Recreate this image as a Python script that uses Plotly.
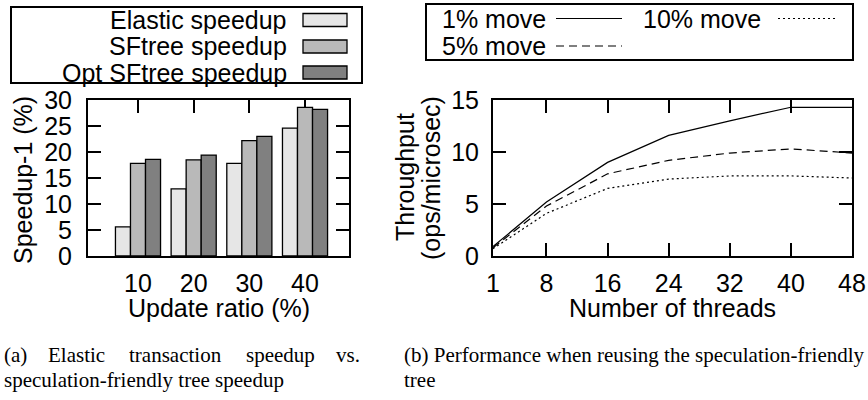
import plotly.graph_objects as go

W, H = 868, 400

# ---------------- data ----------------
update_ratio = [10, 20, 30, 40]
elastic = [5.6, 12.9, 17.8, 24.6]
sftree = [17.8, 18.5, 22.2, 28.6]
opt_sftree = [18.6, 19.4, 23.0, 28.2]
bar_names = ["Elastic speedup", "SFtree speedup", "Opt SFtree speedup"]

threads = [1, 8, 16, 24, 32, 40, 48]
move1 = [0.9, 5.2, 9.0, 11.6, 13.0, 14.3, 14.3]
move5 = [0.8, 4.8, 7.9, 9.2, 9.9, 10.3, 9.9]
move10 = [0.7, 4.1, 6.5, 7.4, 7.7, 7.7, 7.5]
line_names = ["1% move", "5% move", "10% move"]

caption_a1 = ["(a)", "Elastic", "transaction", "speedup", "vs."]
caption_a2 = "speculation-friendly tree speedup"
caption_b1 = "(b) Performance when reusing the speculation-friendly"
caption_b2 = "tree"

# ---------------- style ----------------
SANS = "Liberation Sans, Arial, Helvetica, sans-serif"
SERIF = "Liberation Serif, Times New Roman, serif"
FS = 25
bar_colors = ["#e6e6e6", "#b9b9b9", "#808080"]
line_dashes = ["solid", "8px,5px", "2px,3px"]


def px(x):
    return x / W


def py(y):
    return 1 - y / H


fig = go.Figure()

for name, vals, col in zip(bar_names, [elastic, sftree, opt_sftree], bar_colors):
    fig.add_trace(go.Bar(
        x=update_ratio, y=vals, name=name, xaxis="x", yaxis="y",
        marker=dict(color=col, line=dict(color="black", width=1.3)),
        showlegend=False,
    ))

for name, vals, dash in zip(line_names, [move1, move5, move10], line_dashes):
    fig.add_trace(go.Scatter(
        x=threads, y=vals, name=name, mode="lines", xaxis="x2", yaxis="y2",
        line=dict(color="black", width=1.2, dash=dash),
        showlegend=False,
    ))

axis_common = dict(
    showgrid=False, zeroline=False, showline=True, linecolor="black",
    linewidth=2, mirror="ticks", ticks="inside", ticklen=13, tickwidth=1.5,
    tickcolor="black", tickfont=dict(family=SANS, size=FS, color="black"),
    automargin=False,
)

ydom = [py(256), py(100)]

fig.update_layout(
    width=W, height=H,
    margin=dict(l=0, r=0, t=0, b=0, pad=0),
    paper_bgcolor="white", plot_bgcolor="white",
    barmode="group", bargap=0.19, bargroupgap=0,
    font=dict(family=SANS, size=FS, color="black"),
    xaxis=dict(domain=[px(88), px(349)], range=[1.02, 47.9],
               tickvals=update_ratio, anchor="y", layer="below traces",
               ticklabelstandoff=4, **axis_common),
    yaxis=dict(domain=ydom, range=[0, 30], tickvals=[0, 5, 10, 15, 20, 25, 30],
               anchor="x", ticklabelstandoff=9, **axis_common),
    xaxis2=dict(domain=[px(493), px(852)], range=[1, 48], tickvals=threads,
                anchor="y2", ticklabelstandoff=4, **axis_common),
    yaxis2=dict(domain=ydom, range=[0, 15], tickvals=[0, 5, 10, 15],
                anchor="x2", ticklabelstandoff=7, **axis_common),
)

shapes = []
annotations = []


def text(t, x, y, xanchor="center", size=FS, family=SANS, angle=0):
    annotations.append(dict(
        text=t, x=px(x), y=py(y), xref="paper", yref="paper",
        xanchor=xanchor, yanchor="middle", showarrow=False, textangle=angle,
        borderpad=0,
        font=dict(family=family, size=size, color="black"),
    ))


# axis titles
text("Update ratio (%)", 219, 308)
text("Number of threads", 672, 308)
text("Speedup-1 (%)", 23, 180, angle=-90)
text("Throughput", 405, 177, angle=-90)
text("(ops/microsec)", 431, 178, angle=-90)

# left legend (gnuplot style: label then sample)
shapes.append(dict(type="rect", xref="paper", yref="paper",
                   x0=px(11), x1=px(362), y0=py(83), y1=py(7),
                   line=dict(color="black", width=2), fillcolor="white"))
rows = [(13.5, 26.5), (40, 53), (66, 79)]
for name, col, (y0, y1) in zip(bar_names, bar_colors, rows):
    shapes.append(dict(type="rect", xref="paper", yref="paper",
                       x0=px(303), x1=px(347), y0=py(y1), y1=py(y0),
                       line=dict(color="black", width=1.3), fillcolor=col))
    text(name, 288, (y0 + y1) / 2, xanchor="right")

# right legend
shapes.append(dict(type="rect", xref="paper", yref="paper",
                   x0=px(426), x1=px(853), y0=py(60), y1=py(4),
                   line=dict(color="black", width=2), fillcolor="white"))
leg_pos = [(441, 556, 622, 18.5), (441, 556, 622, 46), (642, 778, 837, 18.5)]
for name, dash, (tx, lx0, lx1, ly) in zip(line_names, line_dashes, leg_pos):
    shapes.append(dict(type="line", xref="paper", yref="paper",
                       x0=px(lx0), x1=px(lx1), y0=py(ly), y1=py(ly),
                       line=dict(color="black", width=1.2, dash=dash)))
    text(name, tx, ly, xanchor="left")

# captions
cap_x = [3, 47, 128, 245, 335]
for w, x in zip(caption_a1, cap_x):
    text(w, x, 355, xanchor="left", size=21, family=SERIF)
text(caption_a2, 3, 380, xanchor="left", size=21, family=SERIF)
text(caption_b1, 403, 355, xanchor="left", size=21, family=SERIF)
text(caption_b2, 403, 380, xanchor="left", size=21, family=SERIF)

fig.update_layout(shapes=shapes, annotations=annotations)

fig.write_html("out.html",
               config={"displayModeBar": False},
               post_script="document.body.style.margin='0';"
                           "document.body.style.overflow='hidden';")
